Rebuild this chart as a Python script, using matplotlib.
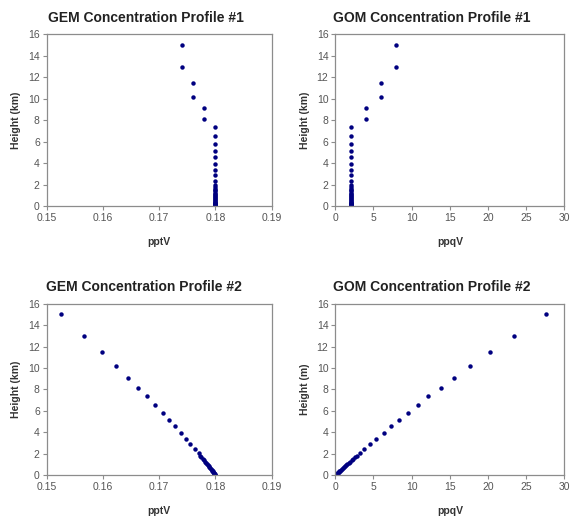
import numpy as np
import matplotlib.pyplot as plt

plt.rcParams['font.family'] = ['Liberation Sans', 'DejaVu Sans']

# model levels (km)
heights = [15.0, 13.0, 11.46, 10.19, 9.1, 8.13, 7.35, 6.54, 5.83, 5.14, 4.55, 3.89,
           3.36, 2.87, 2.4, 2.02, 1.8, 1.65, 1.5, 1.38, 1.25, 1.13, 1.02, 0.92,
           0.82, 0.73, 0.64, 0.56, 0.48, 0.41, 0.34, 0.28, 0.22, 0.17, 0.12,
           0.08, 0.04, 0.02, 0.0]

gem1 = [0.174, 0.174, 0.176, 0.176, 0.178, 0.178] + [0.18] * 33
gom1 = [8, 8, 6, 6, 4, 4] + [2] * 33

gem2 = [0.1525, 0.1567, 0.1598, 0.1623, 0.1645, 0.1663, 0.1678, 0.1693, 0.1706,
        0.1718, 0.1728, 0.1738, 0.1747, 0.1755, 0.1763, 0.1770, 0.1773, 0.1775,
        0.1777, 0.1779, 0.1781, 0.1783, 0.1785, 0.1786, 0.1788, 0.1789, 0.1790,
        0.1792, 0.1793, 0.1794, 0.1795, 0.1796, 0.1797, 0.1797, 0.1798, 0.1799,
        0.1799, 0.1800, 0.1800]
gom2 = [27.55, 23.36, 20.22, 17.69, 15.59, 13.8, 12.18, 10.79, 9.52, 8.34, 7.29,
        6.33, 5.37, 4.5, 3.76, 3.23, 2.8, 2.55, 2.32, 2.13, 1.93, 1.75, 1.58,
        1.43, 1.27, 1.13, 0.99, 0.87, 0.74, 0.64, 0.53, 0.43, 0.34, 0.26, 0.19,
        0.12, 0.06, 0.03, 0.0]

titles = ["GEM Concentration Profile #1", "GOM Concentration Profile #1",
          "GEM Concentration Profile #2", "GOM Concentration Profile #2"]
xlabels = ["pptV", "ppqV", "pptV", "ppqV"]
ylabels = ["Height (km)", "Height (km)", "Height (km)", "Height (m)"]
gem_ticks = [0.15, 0.16, 0.17, 0.18, 0.19]
gom_ticks = [0, 5, 10, 15, 20, 25, 30]
y_ticks = [0, 2, 4, 6, 8, 10, 12, 14, 16]

W, H = 571, 516
fig = plt.figure(figsize=(W / 100, H / 100), dpi=100)

# axes boxes in pixels: left, top, right, bottom
boxes = [(46.7, 34.3, 271.7, 206.3), (335.3, 34.3, 564.3, 206.3),
         (46.7, 303.7, 271.7, 475.0), (335.3, 303.7, 564.3, 475.0)]
title_pos = [(146, 18), (432, 18), (144, 287), (432, 287)]
series = [gem1, gom1, gem2, gom2]

for i in range(4):
    l, t, r, b = boxes[i]
    ax = fig.add_axes([l / W, 1 - b / H, (r - l) / W, (b - t) / H])
    ax.plot(series[i], heights, 'o', color='#000080', markersize=3.2,
            markeredgewidth=0)
    if i % 2 == 0:
        ax.set_xlim(0.15, 0.19)
        ax.set_xticks(gem_ticks)
        ax.set_xticklabels(["%.2f" % v for v in gem_ticks])
    else:
        ax.set_xlim(0, 30)
        ax.set_xticks(gom_ticks)
    ax.set_ylim(0, 16)
    ax.set_yticks(y_ticks)
    for s in ax.spines.values():
        s.set_color('#8c8c8c')
        s.set_linewidth(0.9)
    ax.tick_params(direction='out', length=3, width=0.8, color='#8c8c8c',
                   labelsize=7.5, labelcolor='#555555', pad=2)
    ax.set_xlabel(xlabels[i], fontsize=7.5, fontweight='bold', color='#333333',
                  labelpad=10)
    ax.set_ylabel(ylabels[i], fontsize=7.5, fontweight='bold', color='#333333',
                  labelpad=5)
    fig.text(title_pos[i][0] / W, 1 - title_pos[i][1] / H, titles[i],
             ha='center', va='center', fontsize=10, fontweight='bold',
             color='#222222')

fig.savefig("out.png", dpi=100)
